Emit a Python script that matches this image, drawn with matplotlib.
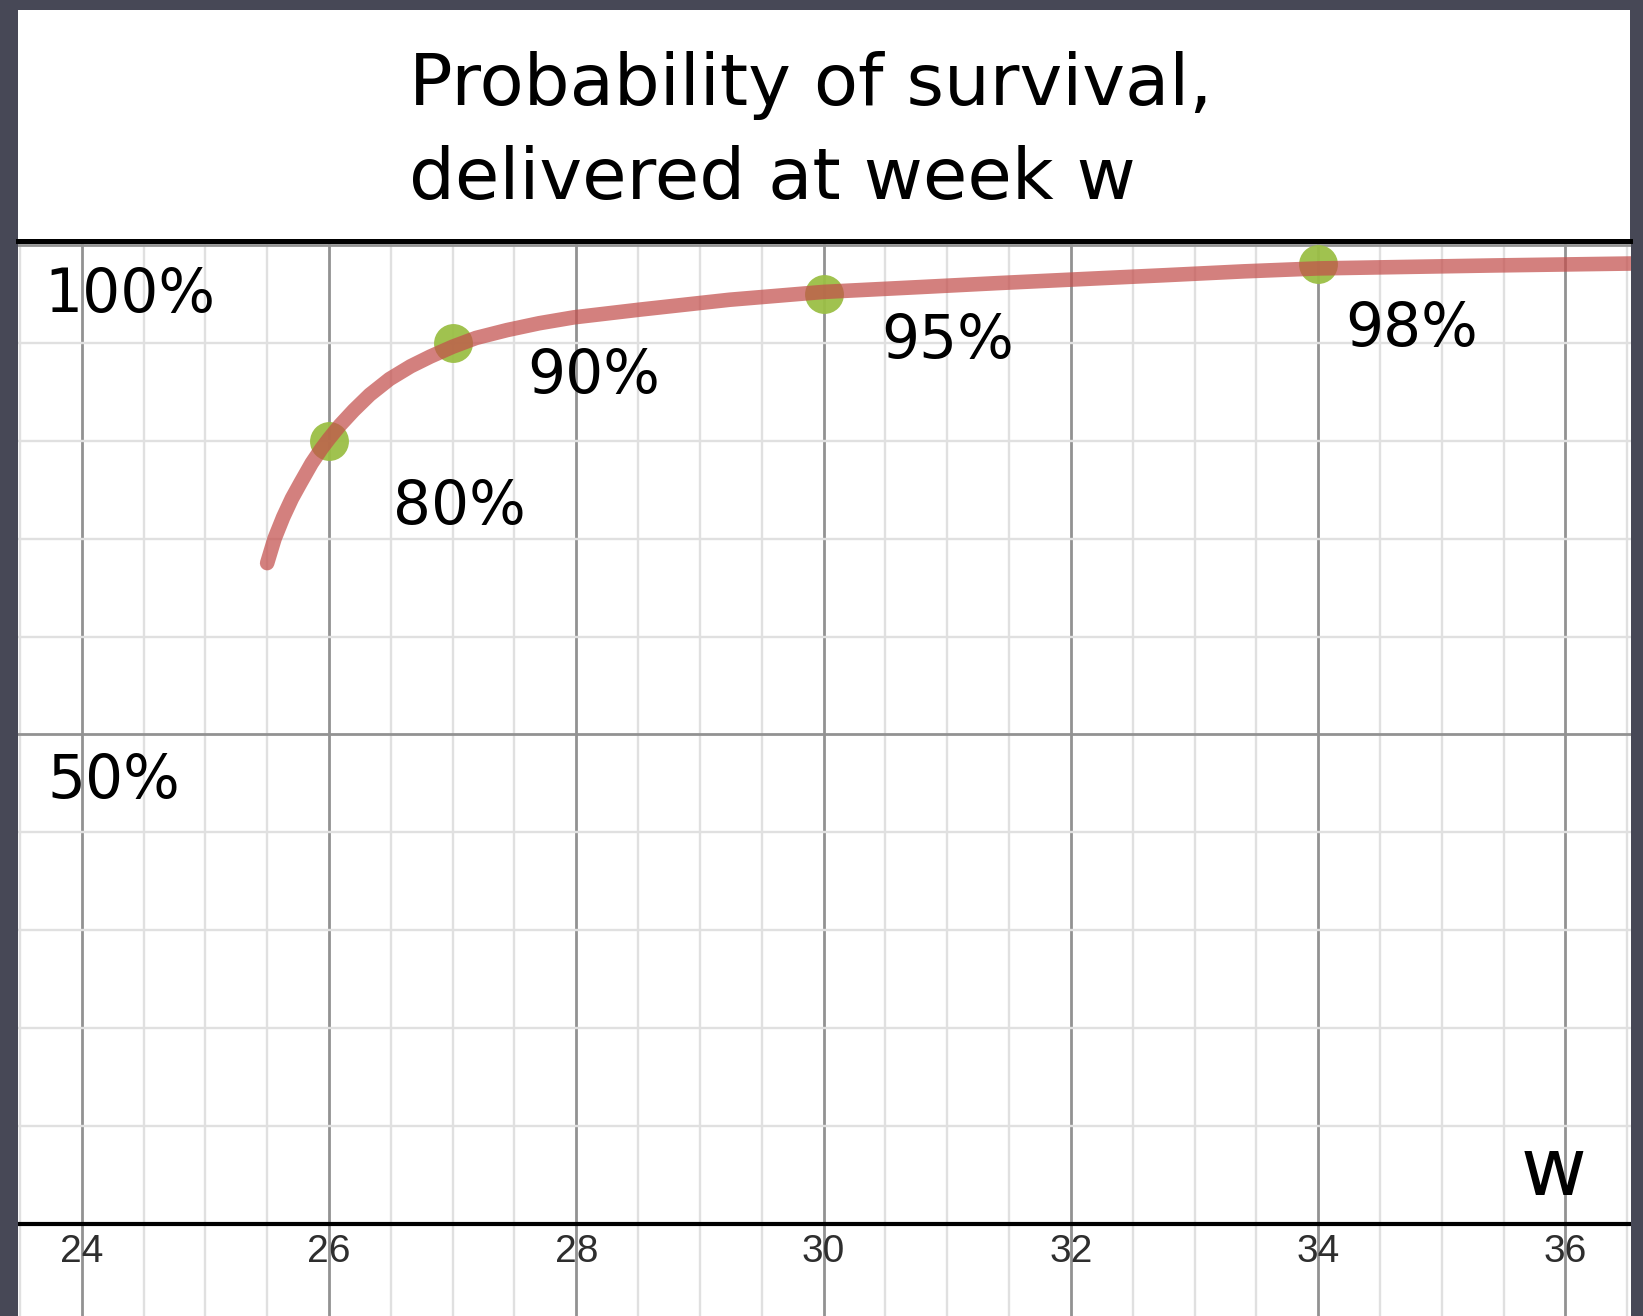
import matplotlib
matplotlib.use("Agg")
import matplotlib.pyplot as plt
from matplotlib.patches import Rectangle
from matplotlib.ticker import MultipleLocator

# ---- data ----
curve_weeks = [25.50, 25.56, 25.63, 25.70, 25.77, 25.86, 25.94, 26.00, 26.09, 26.20,
               26.33, 26.49, 26.66, 26.82, 27.00, 27.19, 27.44, 27.70, 27.98, 28.52,
               29.24, 30.00, 30.79, 31.41, 32.24, 32.75, 33.40, 34.00, 35.41, 36.53]
curve_pct = [67.5, 70.0, 72.2, 74.1, 75.7, 77.7, 79.2, 80.2, 81.6, 83.1,
             84.7, 86.3, 87.6, 88.6, 89.6, 90.5, 91.3, 92.0, 92.6, 93.4,
             94.4, 95.2, 95.7, 96.1, 96.6, 96.9, 97.3, 97.6, 97.9, 98.1]
point_weeks = [26, 27, 30, 34]
point_pct = [80, 90, 95, 98]
point_labels = ["80%", "90%", "95%", "98%"]
xtick_vals = [24, 26, 28, 30, 32, 34, 36]
ytick_labels = ["100%", "50%"]
title_lines = ["Probability of survival,", "delivered at week w"]

W, H = 1643, 1316
fig = plt.figure(figsize=(W / 100, H / 100), dpi=100, facecolor="#474856")

# plot panel
left_px, right_px = 18, 1631
top_px = 241
ax = fig.add_axes([left_px / W, 0, (right_px - left_px) / W, (H - top_px) / H])
ax.set_facecolor("white")
ax.set_xlim(23.485, 36.53)
ax.set_ylim(-9.4, 100.4)
for s in ax.spines.values():
    s.set_visible(False)

ax.xaxis.set_major_locator(MultipleLocator(2))
ax.xaxis.set_minor_locator(MultipleLocator(0.5))
ax.yaxis.set_major_locator(MultipleLocator(50))
ax.yaxis.set_minor_locator(MultipleLocator(10))
ax.grid(which="minor", color="#e0e0e0", linewidth=1.7, zorder=0)
ax.grid(which="major", color="#929292", linewidth=2.0, zorder=0.5)
ax.tick_params(which="both", length=0, labelbottom=False, labelleft=False)
ax.set_axisbelow(True)

# x axis (0%)
ax.axhline(0, color="black", linewidth=3.0, zorder=2)

# tick labels
for v in xtick_vals:
    ax.text(v, -2.9, str(v), ha="center", va="center", fontsize=28,
            family=["Liberation Sans Narrow", "Liberation Sans", "DejaVu Sans"],
            color="#2e2e2e", zorder=3)

# curve and points
ax.plot(point_weeks, point_pct, "o", color="#9bbf45", markersize=28,
        markeredgewidth=0, alpha=0.95, zorder=3)
ax.plot(curve_weeks, curve_pct, color="#c34f4c", alpha=0.72, linewidth=10.5,
        solid_capstyle="round", solid_joinstyle="round", zorder=4)

hand = ["DejaVu Sans"]
label_pos = [(26.52, 71.5), (27.60, 84.9), (30.47, 88.4), (34.22, 89.7)]
for (lx, ly), t in zip(label_pos, point_labels):
    ax.text(lx, ly, t, ha="left", va="baseline", fontsize=43, family=hand,
            color="black", zorder=5)

ax.text(23.695, 93.1, ytick_labels[0], ha="left", va="baseline", fontsize=43,
        family=hand, zorder=5)
ax.text(23.72, 43.5, ytick_labels[1], ha="left", va="baseline", fontsize=43,
        family=hand, zorder=5)
ax.text(35.90, 3.0, "w", ha="center", va="baseline", fontsize=58,
        family=hand, zorder=5)

# title box (white panel above the plot)
fig.patches.append(Rectangle((left_px / W, 1 - top_px / H), (1630 - left_px) / W,
                             (top_px - 9.5) / H, transform=fig.transFigure,
                             facecolor="white", edgecolor="none", zorder=10))
fig.add_artist(plt.Line2D([left_px / W, 1630 / W], [1 - top_px / H, 1 - top_px / H],
                          transform=fig.transFigure, color="black", linewidth=3.6,
                          zorder=11))

fig.text(409 / W, 1 - 105 / H, title_lines[0], ha="left", va="baseline",
         fontsize=52, family=hand, zorder=12)
fig.text(409 / W, 1 - 199 / H, title_lines[1], ha="left", va="baseline",
         fontsize=52, family=hand, zorder=12)

fig.savefig("out.png", dpi=100, facecolor=fig.get_facecolor())
